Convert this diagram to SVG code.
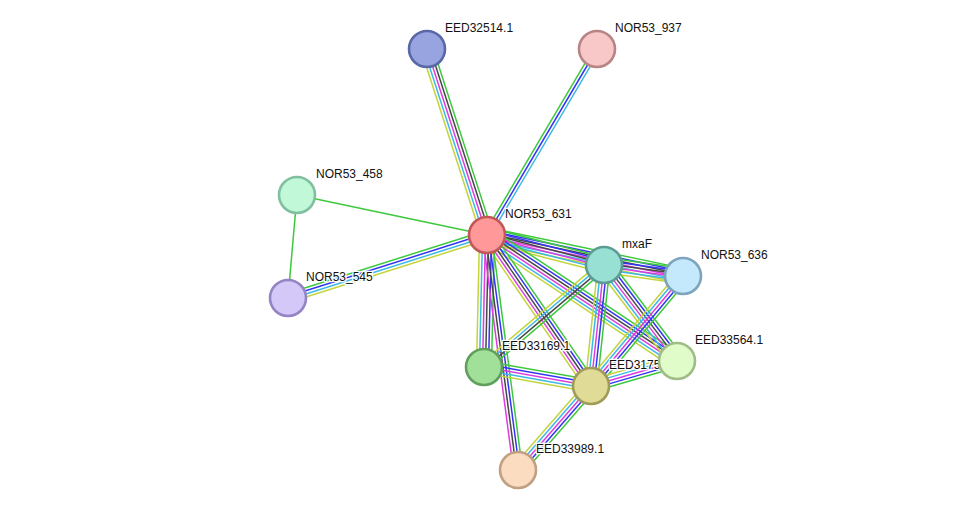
<svg xmlns="http://www.w3.org/2000/svg" width="975" height="516" viewBox="0 0 975 516">
<style>
#edges line{stroke-width:1.5;fill:none}
.g{stroke:#3dc93d}.b{stroke:#3434f5}.k{stroke:#474747}.m{stroke:#dd3ddd}.c{stroke:#3cb8e6}.y{stroke:#c4d43a}
.n circle{stroke-width:2.6}
.n text{font-family:"Liberation Sans",Arial,sans-serif;font-size:12px;fill:#111;stroke:#fff;stroke-width:2.5;stroke-linejoin:round;paint-order:stroke}
</style>
<rect width="975" height="516" fill="#fff"/>
<g id="edges">
  <!-- EED32514.1 - NOR53_631 -->
  <g transform="translate(427,49) rotate(72.12)">
    <line x2="195.4" y1="-6" y2="-6" class="g"/><line x2="195.4" y1="-3" y2="-3" class="k"/><line x2="195.4" class="m"/><line x2="195.4" y1="3" y2="3" class="c"/><line x2="195.4" y1="6" y2="6" class="y"/>
  </g>
  <!-- NOR53_631 - NOR53_937 -->
  <g transform="translate(487,235) rotate(-59.4)">
    <line x2="216.1" y1="-3" y2="-3" class="g"/><line x2="216.1" class="b"/><line x2="216.1" y1="3" y2="3" class="c"/>
  </g>
  <!-- NOR53_458 edges -->
  <line x1="297" y1="195" x2="487" y2="235" class="g"/>
  <line x1="297" y1="195" x2="288" y2="298" class="g"/>
  <!-- NOR53_545 - NOR53_631 -->
  <g transform="translate(288,298) rotate(-17.57)">
    <line x2="208.7" y1="-4.5" y2="-4.5" class="g"/><line x2="208.7" y1="-1.5" y2="-1.5" class="b"/><line x2="208.7" y1="1.5" y2="1.5" class="c"/><line x2="208.7" y1="4.5" y2="4.5" class="y"/>
  </g>
  <!-- NOR53_631 - NOR53_636 -->
  <g transform="translate(487,235) rotate(11.81)">
    <line x2="200.2" y1="-7.5" y2="-7.5" class="g"/><line x2="200.2" y1="-4.5" y2="-4.5" class="b"/><line x2="200.2" y1="-1.5" y2="-1.5" class="k"/><line x2="200.2" y1="1.5" y2="1.5" class="m"/><line x2="200.2" y1="4.5" y2="4.5" class="c"/><line x2="200.2" y1="7.5" y2="7.5" class="y"/>
  </g>
  <!-- NOR53_631 - mxaF -->
  <g transform="translate(487,235) rotate(14.38)">
    <line x2="120.8" y1="-7.5" y2="-7.5" class="g"/><line x2="120.8" y1="-4.5" y2="-4.5" class="b"/><line x2="120.8" y1="-1.5" y2="-1.5" class="k"/><line x2="120.8" y1="1.5" y2="1.5" class="m"/><line x2="120.8" y1="4.5" y2="4.5" class="c"/><line x2="120.8" y1="7.5" y2="7.5" class="y"/>
  </g>
  <!-- NOR53_631 - EED33564.1 -->
  <g transform="translate(487,235) rotate(33.55)">
    <line x2="228" y1="-7.5" y2="-7.5" class="g"/><line x2="228" y1="-4.5" y2="-4.5" class="b"/><line x2="228" y1="-1.5" y2="-1.5" class="k"/><line x2="228" y1="1.5" y2="1.5" class="m"/><line x2="228" y1="4.5" y2="4.5" class="c"/><line x2="228" y1="7.5" y2="7.5" class="y"/>
  </g>
  <!-- NOR53_631 - EED33169.1 -->
  <g transform="translate(487,235) rotate(91.3)">
    <line x2="132" y1="-7.5" y2="-7.5" class="g"/><line x2="132" y1="-4.5" y2="-4.5" class="b"/><line x2="132" y1="-1.5" y2="-1.5" class="k"/><line x2="132" y1="1.5" y2="1.5" class="m"/><line x2="132" y1="4.5" y2="4.5" class="c"/><line x2="132" y1="7.5" y2="7.5" class="y"/>
  </g>
  <!-- NOR53_631 - EED3175 -->
  <g transform="translate(487,235) rotate(55.45)">
    <line x2="183.3" y1="-6" y2="-6" class="g"/><line x2="183.3" y1="-3" y2="-3" class="b"/><line x2="183.3" class="k"/><line x2="183.3" y1="3" y2="3" class="m"/><line x2="183.3" y1="6" y2="6" class="y"/>
  </g>
  <!-- NOR53_631 - EED33989.1 -->
  <g transform="translate(487,235) rotate(82.49)">
    <line x2="237" y1="-4.5" y2="-4.5" class="g"/><line x2="237" y1="-1.5" y2="-1.5" class="b"/><line x2="237" y1="1.5" y2="1.5" class="k"/><line x2="237" y1="4.5" y2="4.5" class="m"/>
  </g>
  <!-- mxaF - NOR53_636 -->
  <g transform="translate(604,265) rotate(7.93)">
    <line x2="79.8" y1="-7.5" y2="-7.5" class="g"/><line x2="79.8" y1="-4.5" y2="-4.5" class="b"/><line x2="79.8" y1="-1.5" y2="-1.5" class="k"/><line x2="79.8" y1="1.5" y2="1.5" class="m"/><line x2="79.8" y1="4.5" y2="4.5" class="c"/><line x2="79.8" y1="7.5" y2="7.5" class="y"/>
  </g>
  <!-- mxaF - EED33564.1 -->
  <g transform="translate(604,265) rotate(52.75)">
    <line x2="120.6" y1="-7.5" y2="-7.5" class="g"/><line x2="120.6" y1="-4.5" y2="-4.5" class="b"/><line x2="120.6" y1="-1.5" y2="-1.5" class="k"/><line x2="120.6" y1="1.5" y2="1.5" class="m"/><line x2="120.6" y1="4.5" y2="4.5" class="c"/><line x2="120.6" y1="7.5" y2="7.5" class="y"/>
  </g>
  <!-- mxaF - EED33169.1 -->
  <g transform="translate(604,265) rotate(139.64)">
    <line x2="157.5" y1="-4.5" y2="-4.5" class="g"/><line x2="157.5" y1="-1.5" y2="-1.5" class="k"/><line x2="157.5" y1="1.5" y2="1.5" class="c"/><line x2="157.5" y1="4.5" y2="4.5" class="y"/>
  </g>
  <!-- mxaF - EED3175 -->
  <g transform="translate(604,265) rotate(96.13)">
    <line x2="121.7" y1="-6" y2="-6" class="g"/><line x2="121.7" y1="-3" y2="-3" class="b"/><line x2="121.7" class="m"/><line x2="121.7" y1="3" y2="3" class="c"/><line x2="121.7" y1="6" y2="6" class="y"/>
  </g>
  <!-- NOR53_636 - EED3175 -->
  <g transform="translate(683,276) rotate(129.91)">
    <line x2="143.4" y1="-6" y2="-6" class="g"/><line x2="143.4" y1="-3" y2="-3" class="b"/><line x2="143.4" class="m"/><line x2="143.4" y1="3" y2="3" class="c"/><line x2="143.4" y1="6" y2="6" class="y"/>
  </g>
  <!-- EED33564.1 - EED3175 -->
  <g transform="translate(677,361) rotate(163.79)">
    <line x2="89.6" y1="-6" y2="-6" class="g"/><line x2="89.6" y1="-3" y2="-3" class="b"/><line x2="89.6" class="m"/><line x2="89.6" y1="3" y2="3" class="c"/><line x2="89.6" y1="6" y2="6" class="y"/>
  </g>
  <!-- EED33169.1 - EED3175 -->
  <g transform="translate(484,367) rotate(10.07)">
    <line x2="108.7" y1="-6" y2="-6" class="g"/><line x2="108.7" y1="-3" y2="-3" class="b"/><line x2="108.7" class="m"/><line x2="108.7" y1="3" y2="3" class="c"/><line x2="108.7" y1="6" y2="6" class="y"/>
  </g>
  <!-- EED3175 - EED33989.1 -->
  <g transform="translate(591,386) rotate(131)">
    <line x2="111.3" y1="-6" y2="-6" class="g"/><line x2="111.3" y1="-3" y2="-3" class="b"/><line x2="111.3" class="m"/><line x2="111.3" y1="3" y2="3" class="c"/><line x2="111.3" y1="6" y2="6" class="y"/>
  </g>
</g>
<g id="n_EED32514" class="n"><circle cx="427" cy="49" r="18" fill="#98a4e0" stroke="#5a68a8"/><text x="445" y="32">EED32514.1</text></g>
<g id="n_NOR53_937" class="n"><circle cx="597" cy="49" r="18" fill="#f8c8c8" stroke="#b88484"/><text x="615" y="32">NOR53_937</text></g>
<g id="n_NOR53_458" class="n"><circle cx="297" cy="195" r="18" fill="#c0f8d8" stroke="#80c0a0"/><text x="316" y="178">NOR53_458</text></g>
<g id="n_NOR53_545" class="n"><circle cx="288" cy="298" r="18" fill="#d4c8f8" stroke="#9484c4"/><text x="306" y="281">NOR53_545</text></g>
<g id="n_NOR53_631" class="n"><circle cx="487" cy="235" r="18" fill="#ff9898" stroke="#c05858"/><text x="505" y="218">NOR53_631</text></g>
<g id="n_mxaF" class="n"><circle cx="604" cy="265" r="18" fill="#98e0d4" stroke="#5c9c94"/><text x="622" y="248">mxaF</text></g>
<g id="n_NOR53_636" class="n"><circle cx="683" cy="276" r="18" fill="#c4e8fc" stroke="#7ca4bc"/><text x="701" y="259">NOR53_636</text></g>
<g id="n_EED33169" class="n"><circle cx="484" cy="367" r="18" fill="#a0e098" stroke="#60a05c"/><text x="502" y="350">EED33169.1</text></g>
<g id="n_EED3175" class="n"><circle cx="591" cy="386" r="18" fill="#e0dc98" stroke="#a09c58"/><text x="609" y="369">EED3175</text></g>
<g id="n_EED33564" class="n"><circle cx="677" cy="361" r="18" fill="#e0fcc8" stroke="#a0bc88"/><text x="695" y="344">EED33564.1</text></g>
<g id="n_EED33989" class="n"><circle cx="518" cy="470" r="18" fill="#fcdcc0" stroke="#c0a080"/><text x="536" y="453">EED33989.1</text></g>
</svg>
